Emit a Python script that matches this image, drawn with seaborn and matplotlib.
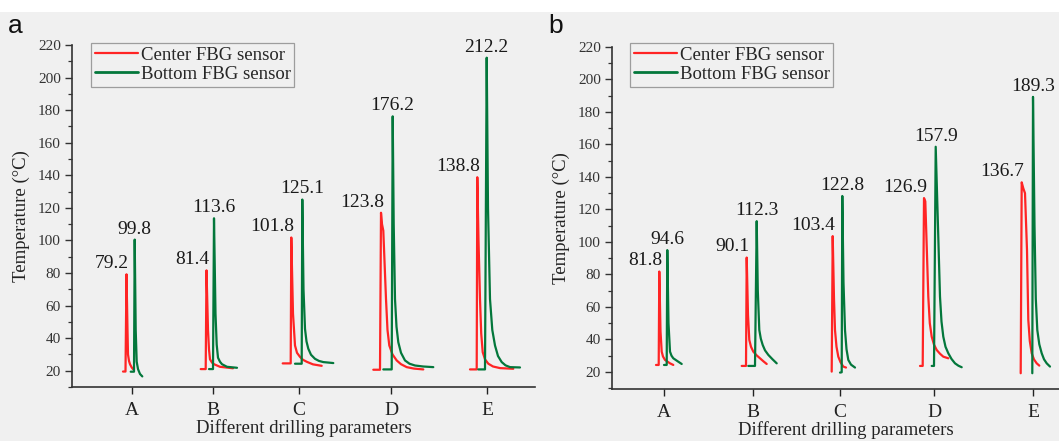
import numpy as np
import pandas as pd
import matplotlib
matplotlib.use("Agg")
import matplotlib.pyplot as plt
from matplotlib.lines import Line2D
from matplotlib.patches import Rectangle
import seaborn as sns

# ---------------- data (x = time offset along each panel's axis, y = temperature in °C) -------------
groups = ["A", "B", "C", "D", "E"]
sensors = ["Center FBG sensor", "Bottom FBG sensor"]

# tick positions for the drilling-parameter groups
a_ticks = [60, 141, 227, 319, 415]
b_ticks = [52, 141, 228, 322, 421]

# peak annotation values
a_center_labels = ["79.2", "81.4", "101.8", "123.8", "138.8"]
a_bottom_labels = ["99.8", "113.6", "125.1", "176.2", "212.2"]
b_center_labels = ["81.8", "90.1", "103.4", "126.9", "136.7"]
b_bottom_labels = ["94.6", "112.3", "122.8", "157.9", "189.3"]

# panel a curves
a_center_A = [(51, 19.5), (53.5, 19.5), (54.5, 79.2), (55.5, 45), (56, 30), (57, 26), (58, 24), (59.7, 22), (61, 21)]
a_bottom_A = [(58.7, 19.4), (62, 19.4), (62.7, 100.5), (63.7, 45), (64.7, 25.5), (66, 21), (68, 18), (70.3, 16.5)]
a_center_B = [(128.7, 21), (133.7, 21), (134.5, 81.6), (136, 45), (137, 33), (138, 27), (140, 25), (142, 24), (148, 22.4), (161, 21.5)]
a_bottom_B = [(137, 21), (141, 21), (142, 113.6), (143.5, 55), (144.7, 36), (146, 28), (148, 25.5), (150, 24), (155, 22.4), (165, 21.8)]
a_center_C = [(210.7, 24.5), (218.7, 24.5), (219.3, 101.8), (221, 55), (223, 35.5), (225, 31), (228, 28.5), (231, 26.7), (234.7, 25.5), (241, 23.9), (249.7, 23)]
a_bottom_C = [(223, 24.3), (229.7, 24.3), (230.3, 125.1), (231.5, 70), (233, 45.7), (234.5, 38), (236.3, 33.5), (239, 29.8), (243, 27.3), (247, 26), (251.3, 25.3), (261.3, 24.7)]
a_center_D = [(301.3, 20.6), (308, 20.6), (309, 117), (310, 110), (311.3, 106), (314, 64), (315.5, 45), (317.3, 35.5), (320.5, 30), (324.7, 26.3), (329, 24), (334.7, 22.2), (342, 21.3), (351.3, 20.8)]
a_bottom_D = [(311.3, 20.8), (319.7, 20.8), (320.7, 176.2), (321.7, 110), (323, 64), (324.5, 47), (326.3, 37.5), (329, 31), (333, 26.3), (337.5, 24.3), (343, 23.2), (351, 22.6), (361.3, 22.2)]
a_center_E = [(398, 20.8), (404.7, 20.8), (405.3, 138.8), (406.5, 100), (408, 64), (409.2, 43), (410.7, 31.4), (413, 27), (416.3, 24.3), (421, 22.6), (428, 21.6), (441.3, 21.2)]
a_bottom_E = [(406.3, 20.8), (413, 20.8), (414.7, 212.2), (416, 120), (418, 64), (420.3, 45), (423, 35.5), (426, 29), (429.7, 25.3), (433.5, 23.3), (438, 22.2), (448, 22)]

# panel b curves
b_center_A = [(44, 24.3), (46.7, 24.3), (47.3, 81.8), (48.5, 45), (49.7, 32.5), (51, 29.5), (53, 27.4), (58, 25.3), (61.3, 24.3)]
b_bottom_A = [(52, 24.3), (54.7, 24.3), (55.3, 95), (56.5, 50), (58, 32.5), (59.5, 30), (61.3, 28.4), (66.3, 26.3), (69.7, 24.9)]
b_center_B = [(129.7, 23.7), (134, 23.7), (134.7, 90.4), (136, 55), (137.3, 39.7), (139, 35.5), (141.3, 32.5), (144.5, 30.3), (148, 28.4), (151.5, 26.5), (154.7, 24.9)]
b_bottom_B = [(136.3, 23.7), (143, 23.7), (144.7, 112.8), (145.8, 70), (147.3, 45.8), (148.8, 40.5), (150.7, 36.6), (153, 33.3), (156.3, 30.5), (160.5, 27.8), (164.7, 25.3)]
b_center_C = [(219.7, 20.2), (220.7, 103.6), (222, 65), (223, 45.8), (224.5, 35.5), (226.3, 29.4), (228.5, 26), (231.3, 23.3), (234, 22.7)]
b_bottom_C = [(228, 19.6), (229.7, 19.8), (230.3, 128.3), (231.5, 75), (233, 45.8), (234.5, 34), (236.3, 27.4), (239, 24.5), (243, 22.7)]
b_center_D = [(308, 23.7), (310.7, 23.7), (312, 127), (313.3, 125), (316.3, 66.3), (317.8, 50), (319.7, 41.7), (322, 36.8), (324.7, 33.5), (328, 31.2), (331.3, 29.4), (336.3, 28.4)]
b_bottom_D = [(319.7, 23.7), (322, 23.7), (323.7, 158.6), (325.5, 120), (328, 66.3), (329.5, 51), (331.3, 41.7), (333.5, 35.5), (336.3, 31.5), (339.5, 28), (343, 25.3), (346.5, 23.8), (349.7, 22.9)]
b_center_E = [(408.7, 19.2), (409.7, 136.7), (411.3, 133), (413, 130), (415, 95), (416.3, 52), (417.8, 39), (419.7, 31.5), (422, 27.7), (424.7, 25.3), (427.3, 23.9)]
b_bottom_E = [(420.3, 19.2), (421, 189.3), (422.5, 110), (423.8, 65), (425.3, 45.8), (427.3, 37), (429.7, 31.5), (432, 27.8), (434.7, 25.3), (438, 23.3)]

a_center = [a_center_A, a_center_B, a_center_C, a_center_D, a_center_E]
a_bottom = [a_bottom_A, a_bottom_B, a_bottom_C, a_bottom_D, a_bottom_E]
b_center = [b_center_A, b_center_B, b_center_C, b_center_D, b_center_E]
b_bottom = [b_bottom_A, b_bottom_B, b_bottom_C, b_bottom_D, b_bottom_E]


def build_frame(center, bottom):
    rows = []
    for sensor, curves in zip(sensors, [center, bottom]):
        for g, pts in zip(groups, curves):
            for i, (x, y) in enumerate(pts):
                rows.append({"sensor": sensor, "group": g, "order": i, "x": x, "y": y})
    return pd.DataFrame(rows)


df_a = build_frame(a_center, a_bottom)
df_b = build_frame(b_center, b_bottom)

# ---------------- style ----------------
sns.set_style("ticks")
plt.rcParams["font.family"] = ["Liberation Serif", "DejaVu Serif"]
plt.rcParams["mathtext.fontset"] = "stix"

RED = "#ff2424"
GREEN = "#03773b"
palette = {sensors[0]: RED, sensors[1]: GREEN}
BG = "#f0f0f0"

W, H = 1059, 441
fig = plt.figure(figsize=(W / 100, H / 100), dpi=100, facecolor=BG)
fig.patches.append(Rectangle((0, 1 - 12 / H), 1, 12 / H, transform=fig.transFigure,
                             facecolor="white", edgecolor="none", zorder=0))


def px_axes(left, top, right, bottom):
    return fig.add_axes([left / W, 1 - bottom / H, (right - left) / W, (bottom - top) / H])


ax_a = px_axes(72, 45, 535, 387)
ax_b = px_axes(612, 47, 1080, 389)

panels = [
    (ax_a, df_a, a_ticks, a_center_labels, a_bottom_labels, (0, 463), (10.8, 220), (91, 43), "a", 8),
    (ax_b, df_b, b_ticks, b_center_labels, b_bottom_labels, (0, 468), (9.5, 220), (630, 43), "b", 548),
]

for ax, df, ticks, clabels, blabels, xlim, ylim, legpos, letter, letter_x in panels:
    ax.set_facecolor("none")
    sns.lineplot(data=df, x="x", y="y", hue="sensor", units="group", estimator=None,
                 sort=False, palette=palette, linewidth=1.6, ax=ax, legend=False)
    ax.set_xlim(*xlim)
    ax.set_ylim(*ylim)
    ax.set_xticks(ticks)
    ax.set_xticklabels(groups, fontsize=14)
    ax.set_yticks(np.arange(20, 221, 20))
    ax.set_yticks(np.arange(10, 221, 10), minor=True)
    ax.tick_params(axis="y", which="major", length=5, width=1.0, labelsize=11, colors="#333333", pad=3)
    ax.tick_params(axis="y", which="minor", length=3, width=0.9, color="#333333")
    ax.tick_params(axis="x", which="major", length=5, width=1.0, labelsize=14, colors="#222222", pad=6)
    for s in ["top", "right"]:
        ax.spines[s].set_visible(False)
    for s in ["left", "bottom"]:
        ax.spines[s].set_linewidth(1.2)
        ax.spines[s].set_color("#333333")
    ax.set_xlabel("Different drilling parameters", fontsize=13.5, color="#222222", labelpad=0)
    ax.set_ylabel("Temperature (°C)", fontsize=13.5, color="#222222", labelpad=6)

    # peak annotations
    for sensor, labels, ha, dx in [(sensors[0], clabels, "right", 2), (sensors[1], blabels, "center", 0)]:
        sub = df[df["sensor"] == sensor]
        for g, lab in zip(groups, labels):
            s = sub[sub["group"] == g]
            k = s["y"].idxmax()
            ax.annotate(lab, xy=(s.loc[k, "x"], s.loc[k, "y"]), xytext=(dx, 1.5),
                        textcoords="offset points", ha=ha, va="bottom", fontsize=14,
                        color="#1a1a1a")

    handles = [Line2D([], [], color=RED, lw=1.6), Line2D([], [], color=GREEN, lw=2.0)]
    leg = ax.legend(handles, sensors, loc="upper left",
                    bbox_to_anchor=(legpos[0] / W, 1 - legpos[1] / H), bbox_transform=fig.transFigure,
                    borderaxespad=0, fontsize=13.5, frameon=True, fancybox=False,
                    handlelength=2.3, handletextpad=0.15, labelspacing=0.1, borderpad=0.2)
    leg.get_frame().set_edgecolor("#888888")
    leg.get_frame().set_linewidth(0.9)
    leg.get_frame().set_facecolor("none")

    fig.text(letter_x / W, 1 - 33 / H, letter, fontsize=19, family="Liberation Sans",
             color="#111111", ha="left", va="baseline")

fig.savefig("out.png", dpi=100, facecolor=fig.get_facecolor())
